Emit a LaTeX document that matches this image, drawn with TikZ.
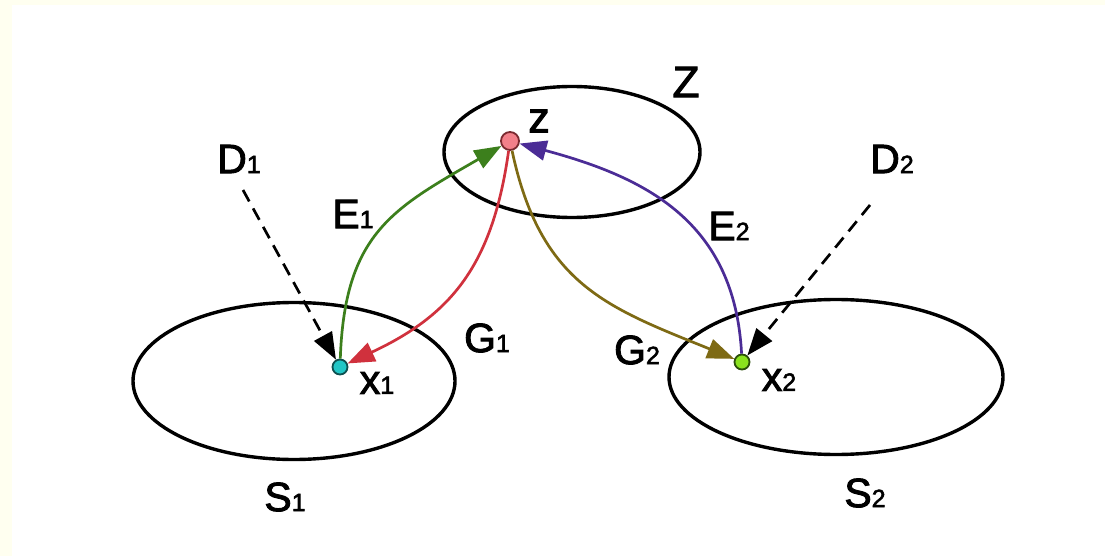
\documentclass[tikz,border=0pt]{standalone}
\usepackage{fontspec}
\setmainfont{Liberation Sans}
\newfontfamily\labfont[FakeBold=2.2]{Liberation Sans}
\usetikzlibrary{arrows.meta,shapes.geometric}

% label with a small index sitting on the baseline
\newcommand{\idxlab}[2]{{\labfont\fontsize{41}{41}\selectfont #1\fontsize{25}{25}\selectfont #2}}

\definecolor{ivory}{HTML}{FFFFF0}
\definecolor{egreen}{HTML}{3C7F1C}
\definecolor{gred}{HTML}{D0313D}
\definecolor{golive}{HTML}{7E6A14}
\definecolor{epurple}{HTML}{4B2C96}
\definecolor{zfill}{HTML}{F2808A}
\definecolor{zline}{HTML}{7A2A30}
\definecolor{xonefill}{HTML}{22C6C6}
\definecolor{xoneline}{HTML}{0E5050}
\definecolor{xtwofill}{HTML}{8AE21E}
\definecolor{xtwoline}{HTML}{2C500A}

\tikzset{
  setshape/.style={ellipse, draw=black, line width=3.4pt, inner sep=0pt},
  dotnode/.style={circle, line width=1.8pt, inner sep=0pt, minimum size=15pt},
  lab/.style={inner sep=0pt, anchor=center},
  tipstyle/.style={-{Triangle[length=27pt,width=20pt]}},
  mapping/.style={tipstyle, line width=2.7pt},
  distort/.style={tipstyle, line width=2.7pt, dash pattern=on 13pt off 8pt},
}

\begin{document}
\begin{tikzpicture}[x=1pt,y=1pt]
  % page and its ivory edge strips
  \fill[white] (0,0) rectangle (1105,-556);
  \fill[ivory] (0,0) rectangle (12,-556);
  \fill[ivory] (0,0) rectangle (1105,-5);
  \useasboundingbox (0,0) rectangle (1105,-556);

  % the three spaces
  \node[setshape, minimum width=256pt, minimum height=131pt] (Zset) at (572,-152) {};
  \node[setshape, minimum width=322pt, minimum height=157pt] (Sone) at (294,-381) {};
  \node[setshape, minimum width=334pt, minimum height=155pt] (Stwo) at (836,-377) {};

  % points
  \node[dotnode, draw=zline, fill=zfill, minimum size=18pt] (z) at (510,-141) {};
  \node[dotnode, draw=xoneline, fill=xonefill] (x1) at (340,-367) {};
  \node[dotnode, draw=xtwoline, fill=xtwofill] (x2) at (742,-362) {};

  % labels
  \node[lab] (Zlab) at (686,-82) {{\labfont\fontsize{44}{44}\selectfont Z}};
  \node[lab] (zlab) at (539,-121) {{\labfont\fontsize{43}{43}\selectfont z}};
  \node[lab] (D1) at (239,-159) {\idxlab{D}{1}};
  \node[lab] (D2) at (892,-159) {\idxlab{D}{2}};
  \node[lab] (E1) at (353,-214) {\idxlab{E}{1}};
  \node[lab] (E2) at (729,-226) {\idxlab{E}{2}};
  \node[lab] (G1) at (487,-338) {\idxlab{G}{1}};
  \node[lab] (G2) at (637,-350) {\idxlab{G}{2}};
  \node[lab] (x1lab) at (377,-383) {\idxlab{x}{1}};
  \node[lab] (x2lab) at (779,-380) {\idxlab{x}{2}};
  \node[lab] (S1) at (285,-497) {\idxlab{S}{1}};
  \node[lab] (S2) at (865,-493) {\idxlab{S}{2}};

  % encoders, generators and distortions
  \draw[mapping, egreen] (x1) to[out=88, in=210, looseness=1.2] (z);
  \draw[mapping, gred] (z) to[out=-98, in=25, looseness=1.1] (x1);
  \draw[mapping, golive] (z) to[out=-78, in=158, looseness=1.15] (x2);
  \draw[mapping, epurple] (x2) to[out=93, in=-15, looseness=1.1] (z);

  \coordinate (d1s) at (243,-190);
  \coordinate (d2s) at (870,-205);
  \draw[distort, black] (d1s) -- (x1);
  \draw[distort, black] (d2s) -- (x2);
\end{tikzpicture}
\end{document}
